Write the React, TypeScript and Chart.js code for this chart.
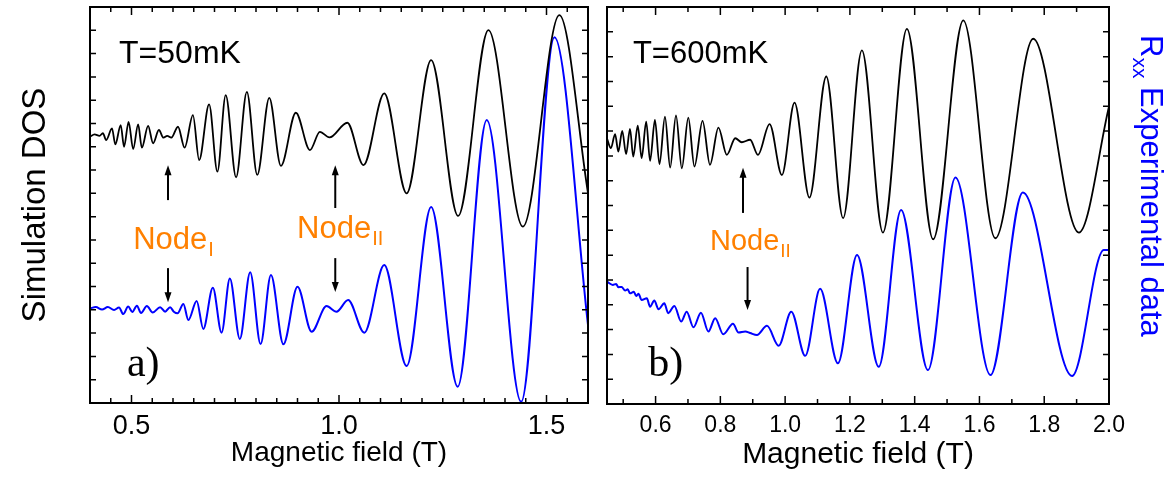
import React, { useEffect, useRef } from 'react';
import { Chart, registerables } from 'chart.js';

Chart.register(...registerables);

const SANS = '"Liberation Sans", Arial, Helvetica, sans-serif';
const SERIF = '"Liberation Serif", "Times New Roman", serif';
const ORANGE = '#FF8000';
const BLUE = '#0000FF';

// ---------- Panel a (T = 50 mK) ----------
const A_SIM_FIELD = [0.400, 0.411, 0.423, 0.431, 0.439, 0.453, 0.461, 0.474, 0.482, 0.493, 0.504, 0.516, 0.525, 0.540, 0.552, 0.566, 0.577, 0.586, 0.596, 0.612, 0.628, 0.648, 0.663, 0.687, 0.707, 0.727, 0.752, 0.778, 0.803, 0.832, 0.860, 0.896, 0.930, 0.954, 0.977, 1.020, 1.059, 1.109, 1.163, 1.222, 1.287, 1.360, 1.443, 1.531, 1.600];
const A_SIM_DOS = [11.43, 11.53, 11.47, 11.58, 11.29, 11.79, 11.10, 11.93, 11.00, 12.07, 10.90, 11.96, 10.96, 11.90, 11.15, 11.72, 11.39, 11.47, 11.39, 11.86, 10.96, 12.36, 10.43, 12.82, 9.93, 13.22, 9.69, 13.36, 9.79, 13.10, 10.18, 12.46, 10.86, 11.64, 11.40, 12.03, 10.21, 13.29, 9.00, 14.72, 8.03, 16.01, 7.57, 16.65, 9.01];

const A_EXP_FIELD = [0.400, 0.414, 0.429, 0.443, 0.458, 0.470, 0.480, 0.492, 0.502, 0.513, 0.523, 0.537, 0.551, 0.569, 0.581, 0.593, 0.602, 0.611, 0.625, 0.637, 0.657, 0.673, 0.696, 0.717, 0.737, 0.761, 0.786, 0.811, 0.836, 0.866, 0.900, 0.934, 0.970, 0.994, 1.022, 1.061, 1.109, 1.163, 1.222, 1.286, 1.356, 1.439, 1.519, 1.600];
const A_EXP_RXX = [4.06, 4.12, 4.01, 4.12, 3.99, 4.10, 3.82, 4.14, 3.91, 4.18, 3.86, 4.16, 3.88, 4.11, 3.92, 4.11, 3.92, 3.85, 4.25, 3.56, 4.38, 3.18, 4.95, 3.02, 5.35, 2.75, 5.61, 2.53, 5.49, 2.52, 4.99, 3.06, 4.16, 3.92, 4.42, 3.02, 5.92, 1.59, 8.41, 0.70, 12.15, 0.05, 15.70, 3.35];

const A_X_LABELS = [0.5, 1.0, 1.5];

// ---------- Panel b (T = 600 mK) ----------
const B_SIM_FIELD = [0.450, 0.462, 0.475, 0.485, 0.497, 0.509, 0.521, 0.531, 0.545, 0.557, 0.571, 0.583, 0.598, 0.612, 0.629, 0.645, 0.663, 0.681, 0.701, 0.720, 0.745, 0.768, 0.794, 0.820, 0.846, 0.866, 0.892, 0.916, 0.952, 0.990, 1.029, 1.075, 1.127, 1.179, 1.237, 1.302, 1.376, 1.457, 1.550, 1.649, 1.766, 1.907, 2.000];
const B_SIM_DOS = [10.70, 10.31, 10.88, 10.17, 11.01, 10.07, 11.09, 9.97, 11.22, 9.91, 11.38, 9.80, 11.45, 9.67, 11.58, 9.53, 11.63, 9.50, 11.54, 9.57, 11.41, 9.64, 11.14, 10.04, 10.71, 10.55, 10.65, 10.04, 11.28, 9.23, 12.15, 8.32, 13.20, 7.49, 14.25, 6.91, 15.12, 6.64, 15.46, 6.68, 14.72, 6.91, 11.99];

const B_EXP_FIELD = [0.450, 0.468, 0.478, 0.485, 0.495, 0.506, 0.514, 0.521, 0.533, 0.540, 0.547, 0.557, 0.573, 0.583, 0.596, 0.609, 0.627, 0.639, 0.658, 0.679, 0.696, 0.717, 0.740, 0.763, 0.784, 0.809, 0.839, 0.856, 0.877, 0.892, 0.913, 0.944, 0.980, 1.019, 1.062, 1.108, 1.163, 1.222, 1.289, 1.358, 1.441, 1.526, 1.634, 1.734, 1.886, 1.984, 2.000];
const B_EXP_RXX = [4.93, 4.80, 4.84, 4.71, 4.72, 4.57, 4.62, 4.46, 4.52, 4.35, 4.44, 4.19, 4.26, 3.92, 4.17, 3.82, 4.06, 3.66, 3.95, 3.32, 3.72, 3.09, 3.68, 2.92, 3.46, 2.81, 3.23, 2.88, 2.92, 2.86, 2.78, 3.15, 2.35, 3.72, 1.94, 4.64, 1.64, 6.01, 1.50, 7.82, 1.37, 9.13, 1.17, 8.52, 1.13, 6.21, 6.21];

const B_X_LABELS = [0.6, 0.8, 1.0, 1.2, 1.4, 1.6, 1.8, 2.0];

type Arrow = { x: number; from: number; to: number };
type Label = { text: string; sub?: string; x: number; y: number; size: number; subSize?: number; subDrop?: number; color: string; family: string };

type PanelCfg = {
  simX: number[]; simY: number[]; expX: number[]; expY: number[];
  xMin: number; xMax: number; xMinorStart: number; xMinor: number; xMajor: number;
  yMax: number; xLabels: number[];
  leftW: number; rightW: number; xAxisH: number; topPad: number;
  tickSize: number; tickPad: number; titleSize: number; titlePad: number;
  arrows: Arrow[]; labels: Label[];
  side: 'left' | 'right';
};

function pairs(xs: number[], ys: number[]) {
  return xs.map((x, i) => ({ x, y: ys[i] }));
}

function drawArrow(ctx: CanvasRenderingContext2D, x: number, y0: number, y1: number) {
  const dir = y1 > y0 ? 1 : -1;
  const head = 10;
  ctx.beginPath();
  ctx.moveTo(x, y0);
  ctx.lineTo(x, y1 - dir * head * 0.6);
  ctx.lineWidth = 2;
  ctx.strokeStyle = '#000';
  ctx.stroke();
  ctx.beginPath();
  ctx.moveTo(x, y1);
  ctx.lineTo(x - 3.5, y1 - dir * head);
  ctx.lineTo(x + 3.5, y1 - dir * head);
  ctx.closePath();
  ctx.fillStyle = '#000';
  ctx.fill();
}

function makeDecor(p: PanelCfg) {
  return {
    id: 'decor',
    afterDatasetsDraw(chart: any) {
      const ctx: CanvasRenderingContext2D = chart.ctx;
      const { left, right, top, bottom } = chart.chartArea;
      const xs = chart.scales.x;
      const ys = chart.scales.y;
      ctx.save();
      ctx.strokeStyle = '#000';
      ctx.lineWidth = 1.5;
      // x ticks (bottom and top, inward)
      const n = Math.round((p.xMax - p.xMinorStart) / p.xMinor);
      for (let i = 0; i <= n; i++) {
        const v = p.xMinorStart + i * p.xMinor;
        const px = xs.getPixelForValue(v);
        const r = v / p.xMajor;
        const major = Math.abs(r - Math.round(r)) < 1e-6;
        const len = major ? 8 : 5;
        ctx.beginPath();
        ctx.moveTo(px, bottom);
        ctx.lineTo(px, bottom - len);
        ctx.moveTo(px, top);
        ctx.lineTo(px, top + len);
        ctx.stroke();
      }
      // y ticks (left and right, inward)
      for (let v = 0; v <= p.yMax; v++) {
        const py = ys.getPixelForValue(v);
        ctx.beginPath();
        ctx.moveTo(left, py);
        ctx.lineTo(left + 6, py);
        ctx.moveTo(right, py);
        ctx.lineTo(right - 6, py);
        ctx.stroke();
      }
      // frame
      ctx.lineWidth = 2;
      ctx.strokeRect(left, top, right - left, bottom - top);

      // arrows
      for (const a of p.arrows) {
        drawArrow(ctx, xs.getPixelForValue(a.x), ys.getPixelForValue(a.from), ys.getPixelForValue(a.to));
      }
      // labels
      ctx.textBaseline = 'alphabetic';
      ctx.textAlign = 'left';
      for (const l of p.labels) {
        const px = xs.getPixelForValue(l.x);
        const py = ys.getPixelForValue(l.y);
        ctx.fillStyle = l.color;
        ctx.font = `${l.size}px ${l.family}`;
        ctx.fillText(l.text, px, py);
        if (l.sub) {
          const w = ctx.measureText(l.text).width;
          ctx.font = `${l.subSize}px ${l.family}`;
          ctx.fillText(l.sub, px + w + 1, py + (l.subDrop || 0));
        }
      }
      // side titles
      if (p.side === 'left') {
        ctx.save();
        ctx.translate(45, 205);
        ctx.rotate(-Math.PI / 2);
        ctx.textAlign = 'center';
        ctx.fillStyle = '#000';
        ctx.font = `33px ${SANS}`;
        ctx.fillText('Simulation DOS', 0, 0);
        ctx.restore();
      } else {
        ctx.save();
        ctx.translate(right + 32, 35);
        ctx.rotate(Math.PI / 2);
        ctx.textAlign = 'left';
        ctx.fillStyle = BLUE;
        ctx.font = `31px ${SANS}`;
        ctx.fillText('R', 0, 0);
        const wR = ctx.measureText('R').width;
        ctx.font = `21px ${SANS}`;
        ctx.fillText('xx', wR, 8);
        const wX = ctx.measureText('xx').width;
        ctx.font = `31px ${SANS}`;
        ctx.fillText(' Experimental data', wR + wX, 0);
        ctx.restore();
      }
      ctx.restore();
    },
  };
}

function buildConfig(p: PanelCfg): any {
  const line = {
    pointRadius: 0,
    cubicInterpolationMode: 'monotone',
    fill: false,
  };
  return {
    type: 'line',
    data: {
      datasets: [
        { ...line, label: 'Simulation DOS', data: pairs(p.simX, p.simY), borderColor: '#000', borderWidth: 1.8, yAxisID: 'y' },
        { ...line, label: 'Rxx Experimental data', data: pairs(p.expX, p.expY), borderColor: BLUE, borderWidth: 2, yAxisID: 'y2' },
      ],
    },
    options: {
      responsive: false,
      animation: false,
      events: [],
      layout: { padding: { top: p.topPad, left: 0, right: 0, bottom: 0 } },
      plugins: { legend: { display: false }, tooltip: { enabled: false }, title: { display: false } },
      scales: {
        x: {
          type: 'linear',
          min: p.xMin,
          max: p.xMax,
          position: 'bottom',
          grid: { display: false, drawTicks: false, tickLength: 0 },
          border: { display: false },
          afterBuildTicks: (s: any) => {
            s.ticks = p.xLabels.map((v) => ({ value: v }));
          },
          ticks: {
            autoSkip: false,
            maxRotation: 0,
            minRotation: 0,
            padding: p.tickPad,
            color: '#000',
            font: { family: SANS, size: p.tickSize },
            callback: (v: any) => Number(v).toFixed(1),
          },
          title: {
            display: true,
            text: 'Magnetic field (T)',
            color: '#000',
            font: { family: SANS, size: p.titleSize },
            padding: { top: 0, bottom: p.titlePad },
          },
          afterFit: (s: any) => {
            s.height = p.xAxisH;
          },
        },
        y: {
          type: 'linear',
          min: 0,
          max: p.yMax,
          position: 'left',
          grid: { display: false, drawTicks: false },
          border: { display: false },
          ticks: { display: false },
          afterFit: (s: any) => {
            s.width = p.leftW;
          },
        },
        y2: {
          type: 'linear',
          min: 0,
          max: p.yMax,
          position: 'right',
          grid: { display: false, drawTicks: false },
          border: { display: false },
          ticks: { display: false },
          afterFit: (s: any) => {
            s.width = p.rightW;
          },
        },
      },
    },
    plugins: [makeDecor(p)],
  };
}

const PANEL_A: PanelCfg = {
  simX: A_SIM_FIELD, simY: A_SIM_DOS, expX: A_EXP_FIELD, expY: A_EXP_RXX,
  xMin: 0.4, xMax: 1.6, xMinorStart: 0.4, xMinor: 0.05, xMajor: 0.5,
  yMax: 17, xLabels: A_X_LABELS,
  leftW: 90, rightW: 10, xAxisH: 74, topPad: 7,
  tickSize: 27, tickPad: 7, titleSize: 28, titlePad: 7,
  arrows: [
    { x: 0.588, from: 8.71, to: 10.21 },
    { x: 0.588, from: 5.79, to: 4.33 },
    { x: 0.991, from: 8.37, to: 10.21 },
    { x: 0.991, from: 6.22, to: 4.76 },
  ],
  labels: [
    { text: 'T=50mK', x: 0.470, y: 14.59, size: 32, color: '#000', family: SANS },
    { text: 'a)', x: 0.489, y: 1.16, size: 42, color: '#000', family: SERIF },
    { text: 'Node', sub: 'I', x: 0.504, y: 6.61, size: 31, subSize: 20, subDrop: 7, color: ORANGE, family: SANS },
    { text: 'Node', sub: 'II', x: 0.899, y: 7.08, size: 31, subSize: 20, subDrop: 7, color: ORANGE, family: SANS },
  ],
  side: 'left',
};

const PANEL_B: PanelCfg = {
  simX: B_SIM_FIELD, simY: B_SIM_DOS, expX: B_EXP_FIELD, expY: B_EXP_RXX,
  xMin: 0.45, xMax: 2.0, xMinorStart: 0.5, xMinor: 0.1, xMajor: 0.2,
  yMax: 16, xLabels: B_X_LABELS,
  leftW: 9, rightW: 67, xAxisH: 73, topPad: 7,
  tickSize: 23, tickPad: 8, titleSize: 30, titlePad: 4,
  arrows: [
    { x: 0.870, from: 7.70, to: 9.52 },
    { x: 0.884, from: 5.52, to: 3.79 },
  ],
  labels: [
    { text: 'T=600mK', x: 0.530, y: 13.75, size: 31, color: '#000', family: SANS },
    { text: 'b)', x: 0.577, y: 1.13, size: 42, color: '#000', family: SERIF },
    { text: 'Node', sub: 'II', x: 0.768, y: 6.21, size: 29, subSize: 19, subDrop: 7, color: ORANGE, family: SANS },
  ],
  side: 'right',
};

function Panel({ cfg, left, width }: { cfg: PanelCfg; left: number; width: number }) {
  const ref = useRef<HTMLCanvasElement>(null);
  useEffect(() => {
    if (!ref.current) return;
    const chart = new Chart(ref.current, buildConfig(cfg));
    return () => chart.destroy();
  }, [cfg]);
  return (
    <canvas
      ref={ref}
      width={width}
      height={477}
      style={{ position: 'absolute', left, top: 0, width, height: 477, display: 'block' }}
    />
  );
}

export default function App() {
  return (
    <div style={{ position: 'absolute', left: 0, top: 0, width: 1176, height: 477, background: '#fff', overflow: 'hidden' }}>
      <Panel cfg={PANEL_A} left={0} width={598} />
      <Panel cfg={PANEL_B} left={598} width={578} />
    </div>
  );
}
